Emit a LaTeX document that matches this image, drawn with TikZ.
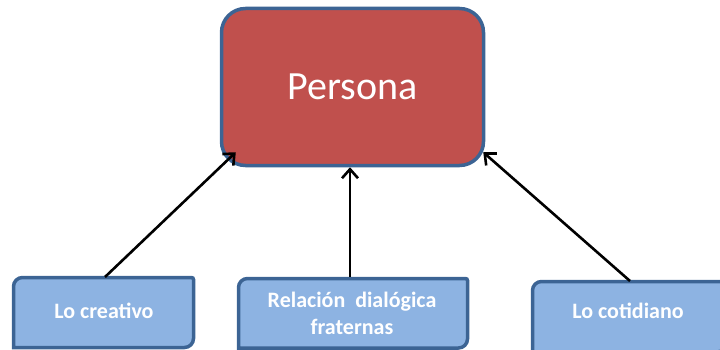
\documentclass[tikz,border=0pt]{standalone}
\usepackage{fontspec}
\setmainfont{Carlito}
\usetikzlibrary{arrows.meta,backgrounds}
\definecolor{redfill}{HTML}{C0504D}
\definecolor{blueedge}{HTML}{3C6494}
\definecolor{bluefill}{HTML}{8DB3E2}
\tikzset{
  mainbox/.style={draw=blueedge,line width=3.5pt,fill=redfill,rounded corners=24pt,
    minimum width=262pt,minimum height=157pt,text=white,font=\fontsize{40}{46}\selectfont,inner sep=0pt},
  leafbox/.style={text=white,font=\bfseries\fontsize{22}{27}\selectfont,align=center,inner sep=0pt},
  leafshape/.style={draw=blueedge,line width=3.5pt,fill=bluefill},
  conn/.style={line width=2.6pt,-{Straight Barb[length=9pt,width=16pt,line width=2.6pt]}}
}
\newcommand{\leafpath}[1]{%
  \path[leafshape] (#1sw) [rounded corners=9pt] -- (#1nw) [rounded corners=2pt] -- (#1ne) [rounded corners=9pt] -- (#1se) [sharp corners] -- cycle;}
\begin{document}
\begin{tikzpicture}[x=1pt,y=-1pt]
\useasboundingbox (0,0) rectangle (720,350);
\clip (0,0) rectangle (720,350);
\node[mainbox] (persona) at (352.5,87) {Persona};
\node[leafbox] (creativo) at (104,311) {Lo creativo};
\node[leafbox] (relacion) at (352,313) {Relación\hspace{0.45em}dialógica\\fraternas};
\node[leafbox] (cotidiano) at (628,311) {Lo cotidiano};
\coordinate (asw) at (13.5,347.5); \coordinate (anw) at (13.5,277.5);
\coordinate (ane) at (193.5,277.5); \coordinate (ase) at (193.5,347.5);
\coordinate (bsw) at (238.5,348); \coordinate (bnw) at (238.5,278.5);
\coordinate (bne) at (467.5,278.5); \coordinate (bse) at (467.5,348);
\coordinate (csw) at (532.5,352); \coordinate (cnw) at (532.5,281.5);
\coordinate (cne) at (726,281.5); \coordinate (cse) at (726,352);
\coordinate (ctop) at (105,277); \coordinate (rtop) at (350,277);
\coordinate (otop) at (630,281);
\begin{pgfonlayer}{background}
\leafpath{a}
\leafpath{b}
\leafpath{c}
\end{pgfonlayer}
\draw[conn] (ctop) -- ([xshift=16pt,yshift=15pt]persona.south west);
\draw[conn] (rtop) -- (persona.south -| rtop);
\draw[conn] (otop) -- ([xshift=-2pt,yshift=15pt]persona.south east);
\end{tikzpicture}
\end{document}
